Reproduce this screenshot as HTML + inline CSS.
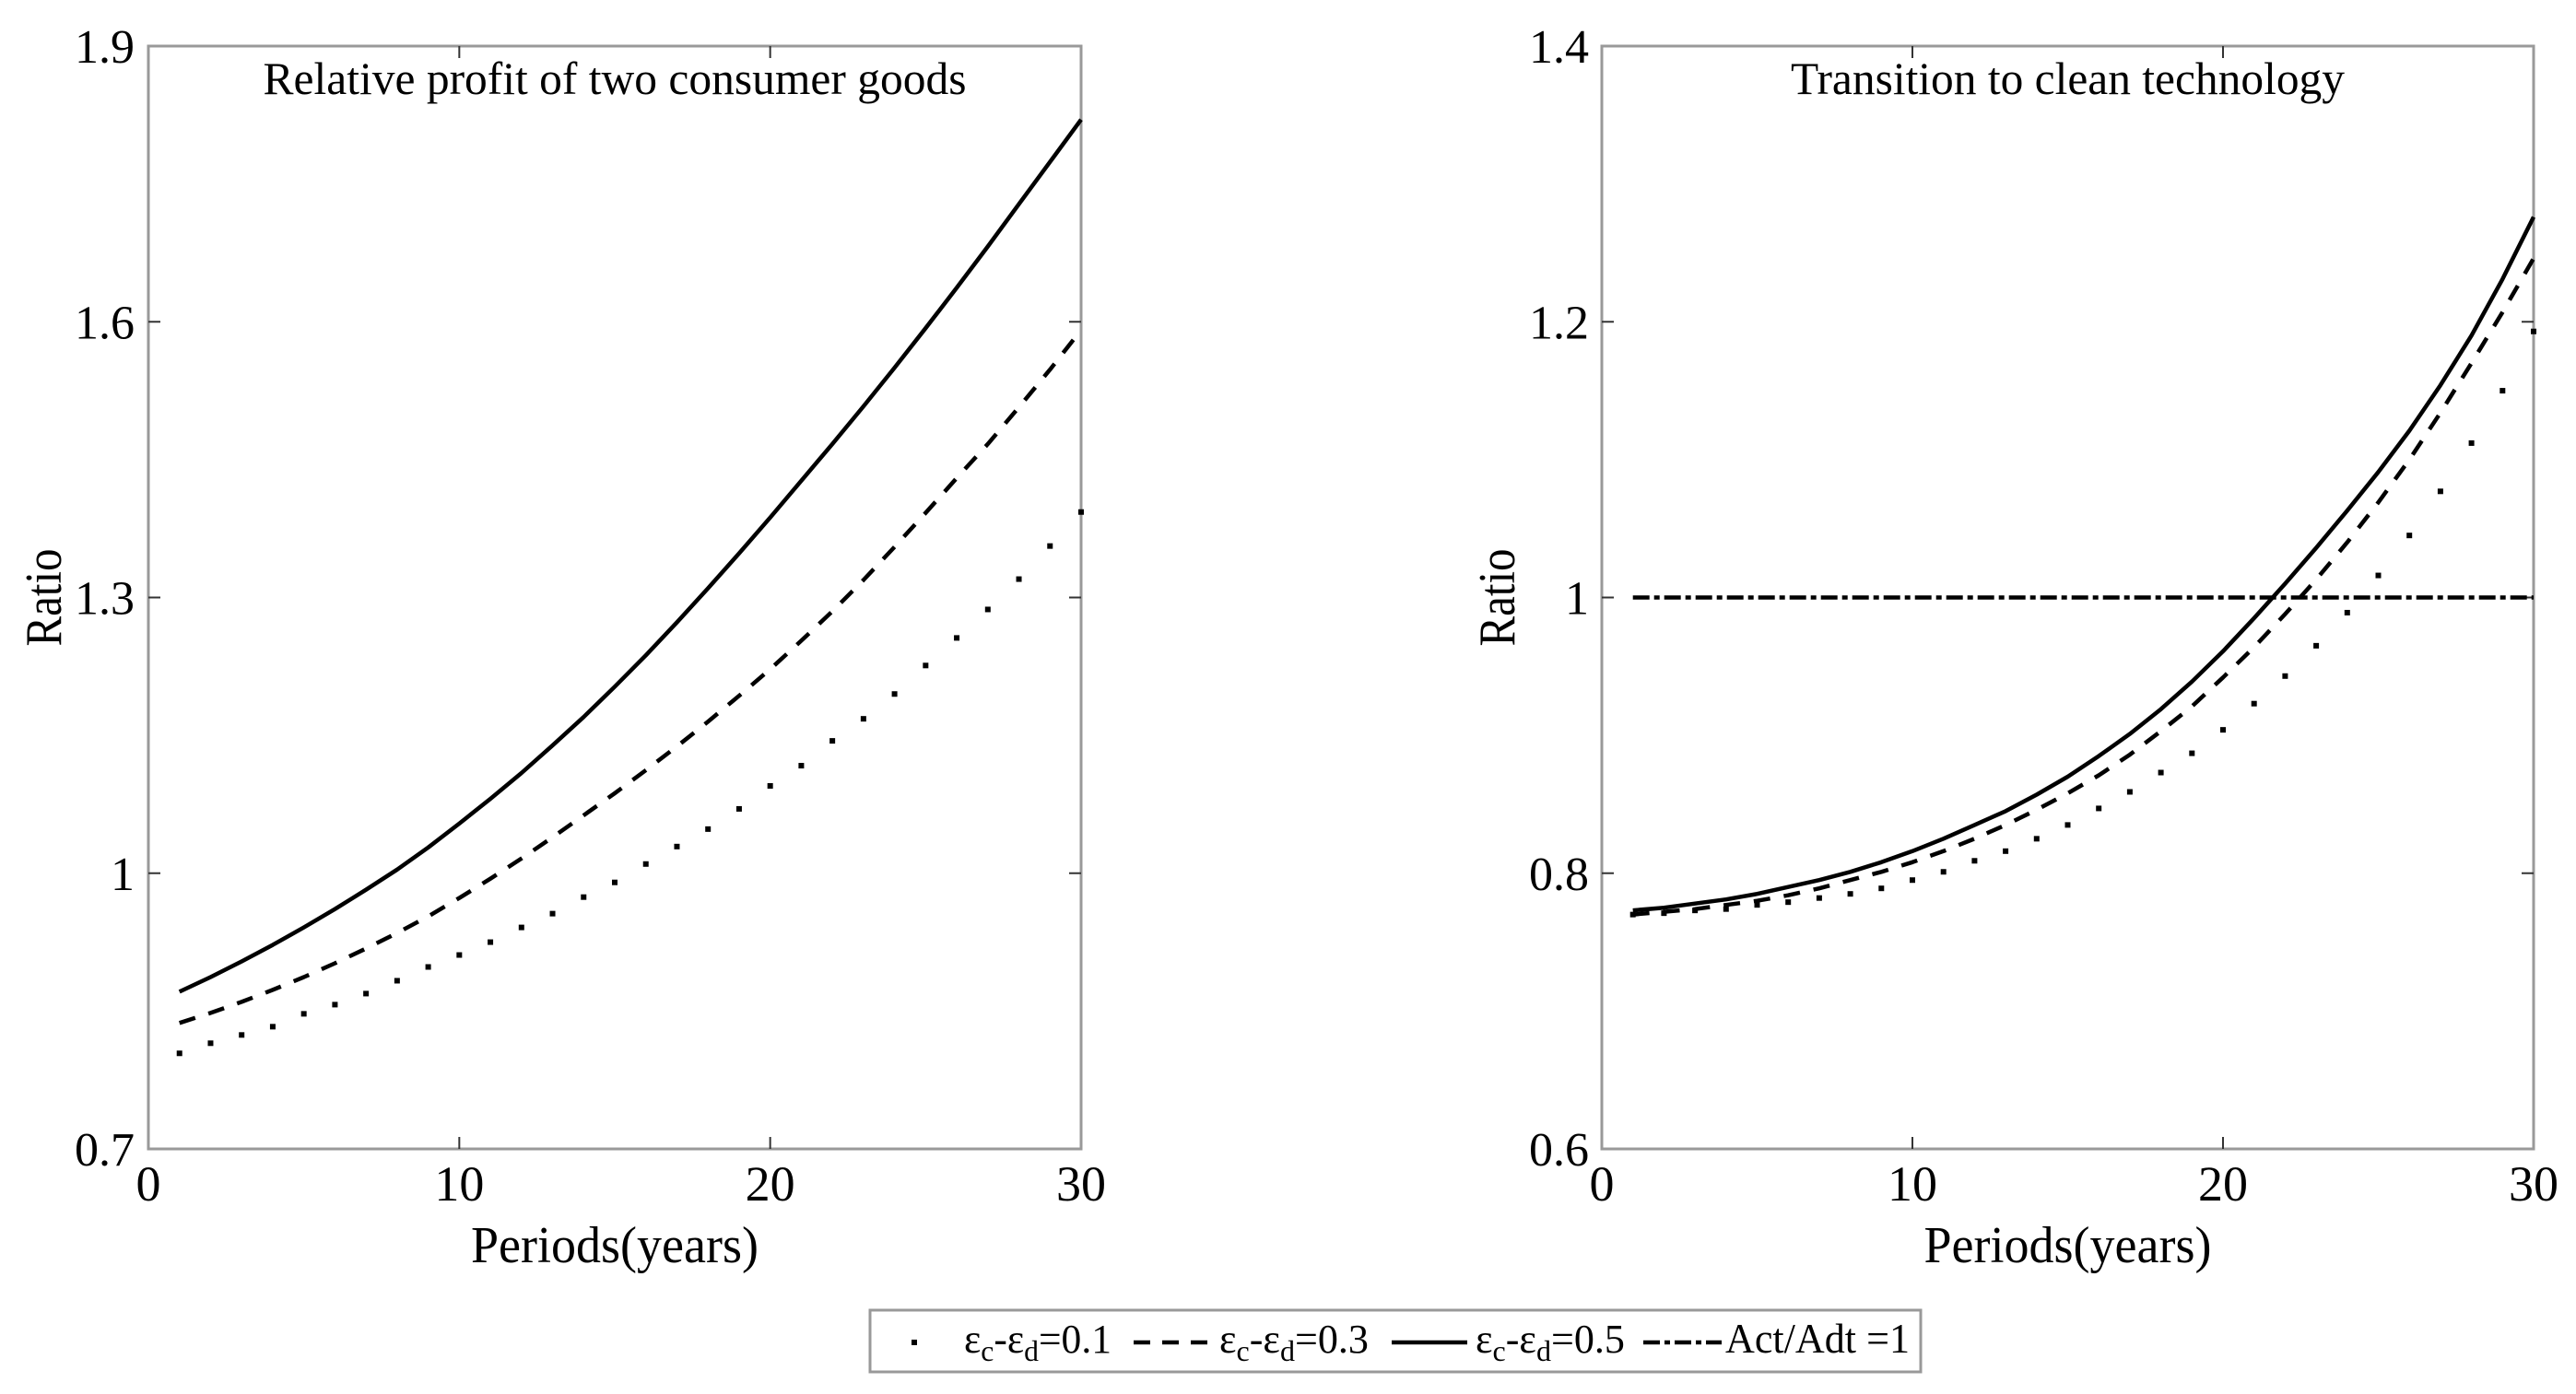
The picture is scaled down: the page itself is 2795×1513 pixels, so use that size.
<!DOCTYPE html>
<html><head><meta charset="utf-8"><style>
html,body{margin:0;padding:0;background:#fff;}
svg{display:block;font-family:"Liberation Serif",serif;}
</style></head><body>
<svg id="fig" width="2795" height="1513" viewBox="0 0 2795 1513" xmlns="http://www.w3.org/2000/svg">
<g id="p1"></g>
<g id="p2"></g>
<g>
  <rect x="944" y="1422" width="1140" height="67" fill="#fff" stroke="#999" stroke-width="3"/>
  <g>
    <rect x="989" y="1454" width="6" height="6" fill="#000"/>
    <text x="1046" y="1468" font-size="44" textLength="160" lengthAdjust="spacingAndGlyphs">ε<tspan font-size="32" dy="9">c</tspan><tspan dy="-9">-ε</tspan><tspan font-size="32" dy="9">d</tspan><tspan dy="-9">=0.1</tspan></text>
  </g>
  <g>
    <line x1="1230" y1="1457" x2="1318" y2="1457" stroke="#000" stroke-width="4.5" stroke-dasharray="18,13"/>
    <text x="1323" y="1468" font-size="44" textLength="162" lengthAdjust="spacingAndGlyphs">ε<tspan font-size="32" dy="9">c</tspan><tspan dy="-9">-ε</tspan><tspan font-size="32" dy="9">d</tspan><tspan dy="-9">=0.3</tspan></text>
  </g>
  <g>
    <line x1="1510" y1="1457" x2="1592" y2="1457" stroke="#000" stroke-width="4.5"/>
    <text x="1601" y="1468" font-size="44" textLength="162" lengthAdjust="spacingAndGlyphs">ε<tspan font-size="32" dy="9">c</tspan><tspan dy="-9">-ε</tspan><tspan font-size="32" dy="9">d</tspan><tspan dy="-9">=0.5</tspan></text>
  </g>
  <g>
    <line x1="1783" y1="1457" x2="1868" y2="1457" stroke="#000" stroke-width="4.5" stroke-dasharray="18,5,6,5"/>
    <text x="1872" y="1468" font-size="46" textLength="200" lengthAdjust="spacingAndGlyphs">Act/Adt =1</text>
  </g>
</g>
</svg>
<script>
// Left panel data
const years = [1,2,3,4,5,6,7,8,9,10,11,12,13,14,15,16,17,18,19,20,21,22,23,24,25,26,27,28,29,30];
const profit01 = [0.804,0.815,0.824,0.833,0.847,0.857,0.869,0.883,0.898,0.911,0.925,0.941,0.956,0.974,0.990,1.010,1.029,1.048,1.070,1.095,1.117,1.144,1.168,1.195,1.226,1.256,1.287,1.320,1.356,1.393];
const profit03 = [0.837,0.848,0.860,0.873,0.887,0.902,0.918,0.935,0.953,0.973,0.994,1.016,1.039,1.063,1.087,1.112,1.138,1.165,1.193,1.222,1.253,1.285,1.319,1.355,1.392,1.430,1.467,1.507,1.548,1.591];
const profit05 = [0.871,0.887,0.904,0.922,0.941,0.961,0.982,1.004,1.028,1.054,1.081,1.109,1.139,1.170,1.203,1.237,1.273,1.310,1.348,1.387,1.427,1.467,1.508,1.550,1.593,1.637,1.682,1.728,1.774,1.820];
const profitTicks = [0.7,1.0,1.3,1.6,1.9];
const profitTickLabels = ["0.7","1","1.3","1.6","1.9"];
// Right panel data
const clean01 = [0.770,0.771,0.773,0.774,0.777,0.779,0.782,0.785,0.789,0.795,0.801,0.809,0.816,0.825,0.835,0.847,0.859,0.873,0.887,0.904,0.923,0.943,0.965,0.989,1.016,1.045,1.077,1.112,1.150,1.193];
const clean03 = [0.770,0.772,0.774,0.777,0.780,0.784,0.789,0.795,0.801,0.808,0.816,0.825,0.835,0.846,0.858,0.871,0.886,0.903,0.921,0.942,0.964,0.988,1.013,1.040,1.069,1.100,1.134,1.170,1.207,1.246];
const clean05 = [0.773,0.775,0.778,0.781,0.785,0.790,0.795,0.801,0.808,0.816,0.825,0.835,0.845,0.857,0.870,0.885,0.901,0.919,0.939,0.961,0.985,1.010,1.036,1.063,1.091,1.121,1.154,1.190,1.231,1.276];
const threshold = [1,1];
const thresholdX = [1,30];
const cleanTicks = [0.6,0.8,1.0,1.2,1.4];
const cleanTickLabels = ["0.6","0.8","1","1.2","1.4"];
const xTicks = [0,10,20,30];
const xTickLabels = ["0","10","20","30"];

const NS = "http://www.w3.org/2000/svg";
function mk(parent, tag, attrs){const e=document.createElementNS(NS,tag);for(const k in attrs)e.setAttribute(k,attrs[k]);parent.appendChild(e);return e;}

function panel(g, L, R, T, B, ymin, ymax, yTicks, yLabels, title, titleLen, series, labelRight){
  const sx = v => L + (v-0)/(30-0)*(R-L);
  const sy = v => B - (v-ymin)/(ymax-ymin)*(B-T);
  const frame = mk(g,'rect',{x:L,y:T,width:R-L,height:B-T,fill:'none',stroke:'#999','stroke-width':3});
  
  
  yTicks.forEach((t,i)=>{
    const y=sy(t);
    if(i>0&&i<yTicks.length-1){
      const a=mk(g,'line',{x1:L,y1:y,x2:L+13,y2:y,stroke:'#333','stroke-width':2});
      
      
      const b=mk(g,'line',{x1:R,y1:y,x2:R-13,y2:y,stroke:'#333','stroke-width':2});
      
      
    }
    const tx=mk(g,'text',{x:labelRight,y:y+18,'font-size':52,'text-anchor':'end'});
    tx.textContent=yLabels[i];
    
    
  });
  xTicks.forEach((t,i)=>{
    const x=sx(t);
    if(i>0&&i<xTicks.length-1){
      const a=mk(g,'line',{x1:x,y1:B,x2:x,y2:B-13,stroke:'#333','stroke-width':2});
      
      
      const b=mk(g,'line',{x1:x,y1:T,x2:x,y2:T+13,stroke:'#333','stroke-width':2});
      
      
    }
    const tx=mk(g,'text',{x:x,y:B+56,'font-size':54,'text-anchor':'middle'});
    tx.textContent=xTickLabels[i];
    
    
  });
  const tt=mk(g,'text',{x:(L+R)/2,y:T+52,'font-size':50,'text-anchor':'middle',textLength:titleLen,lengthAdjust:'spacingAndGlyphs'});
  tt.textContent=title;
  
  
  const xt=mk(g,'text',{x:(L+R)/2,y:1370,'font-size':56,'text-anchor':'middle',textLength:312,lengthAdjust:'spacingAndGlyphs'});
  xt.textContent='Periods(years)';
  
  
  const yt=mk(g,'text',{x:0,y:0,'font-size':56,'text-anchor':'middle',textLength:106,lengthAdjust:'spacingAndGlyphs',transform:`translate(${L-95},${(T+B)/2}) rotate(-90)`});
  yt.textContent='Ratio';
  
  
  series.forEach(s=>{
    if(s.type==='dot'){
      s.ys.forEach((v,i)=>{
        const r=mk(g,'rect',{x:sx(s.xs[i])-3,y:sy(v)-3,width:6,height:6,fill:'#000'});
        
        
      });
    } else {
      const d=s.ys.map((v,i)=>(i?'L':'M')+sx(s.xs[i]).toFixed(1)+','+sy(v).toFixed(1)).join(' ');
      const p=mk(g,'path',{d:d,fill:'none',stroke:'#000','stroke-width':4.5,'stroke-linejoin':'round','stroke-dasharray':s.dash||'none'});
      
      
    }
  });
}
panel(document.getElementById('p1'),161,1173,50,1247,0.7,1.9,profitTicks,profitTickLabels,'Relative profit of two consumer goods',763,[
  {type:'dot',xs:years,ys:profit01,name:'series-diff-0.1'},
  {type:'line',xs:years,ys:profit03,dash:'18,15',name:'series-diff-0.3'},
  {type:'line',xs:years,ys:profit05,name:'series-diff-0.5'}
],146);
panel(document.getElementById('p2'),1738,2749,50,1247,0.6,1.4,cleanTicks,cleanTickLabels,'Transition to clean technology',601,[
  {type:'line',xs:thresholdX,ys:threshold,dash:'18,5,6,5',name:'threshold-line'},
  {type:'dot',xs:years,ys:clean01,name:'series-diff-0.1'},
  {type:'line',xs:years,ys:clean03,dash:'18,15',name:'series-diff-0.3'},
  {type:'line',xs:years,ys:clean05,name:'series-diff-0.5'}
],1724);
</script>
</body></html>
